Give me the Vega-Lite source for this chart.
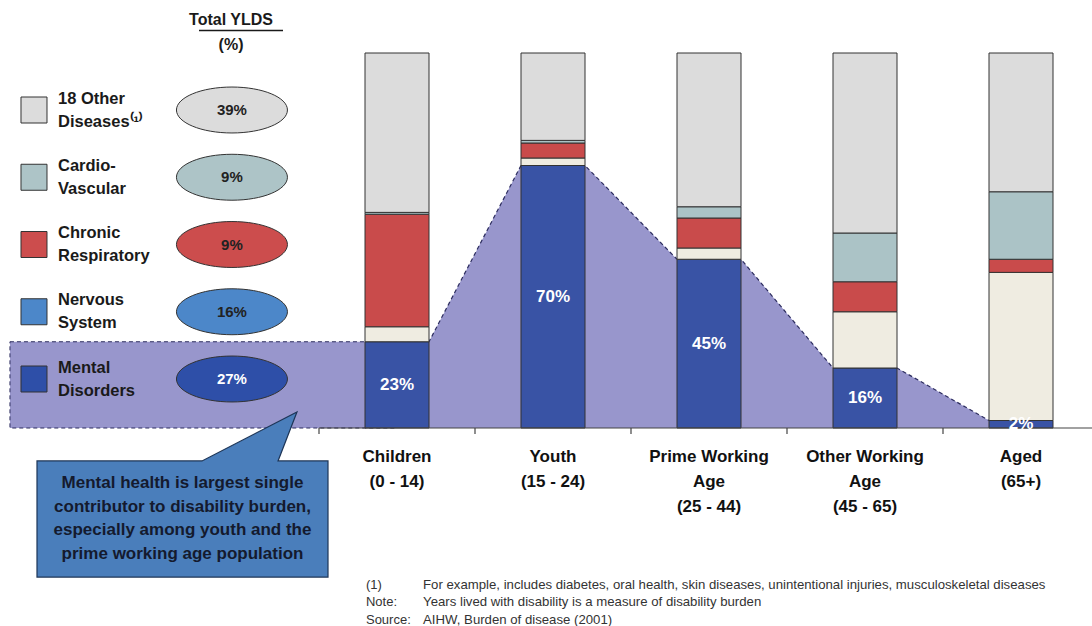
{
  "$schema": "https://vega.github.io/schema/vega-lite/v6.json",
  "width": 1085,
  "height": 375,
  "autosize": "none",
  "padding": {"left": 7, "top": 53, "right": 0, "bottom": 198},
  "background": "white",
  "config": {"view": {"stroke": null}, "font": "Liberation Sans"},
  "datasets": {
    "shares": [
      {"group": "Children", "cause": "Mental", "pct": 23},
      {"group": "Children", "cause": "Nervous", "pct": 4},
      {"group": "Children", "cause": "Respiratory", "pct": 30},
      {"group": "Children", "cause": "Cardio", "pct": 0.5},
      {"group": "Children", "cause": "Other", "pct": 42.5},
      {"group": "Youth", "cause": "Mental", "pct": 70},
      {"group": "Youth", "cause": "Nervous", "pct": 2},
      {"group": "Youth", "cause": "Respiratory", "pct": 4},
      {"group": "Youth", "cause": "Cardio", "pct": 0.7},
      {"group": "Youth", "cause": "Other", "pct": 23.3},
      {"group": "Prime Working Age", "cause": "Mental", "pct": 45},
      {"group": "Prime Working Age", "cause": "Nervous", "pct": 3},
      {"group": "Prime Working Age", "cause": "Respiratory", "pct": 8},
      {"group": "Prime Working Age", "cause": "Cardio", "pct": 3},
      {"group": "Prime Working Age", "cause": "Other", "pct": 41},
      {"group": "Other Working Age", "cause": "Mental", "pct": 16},
      {"group": "Other Working Age", "cause": "Nervous", "pct": 15},
      {"group": "Other Working Age", "cause": "Respiratory", "pct": 8},
      {"group": "Other Working Age", "cause": "Cardio", "pct": 13},
      {"group": "Other Working Age", "cause": "Other", "pct": 48},
      {"group": "Aged", "cause": "Mental", "pct": 2},
      {"group": "Aged", "cause": "Nervous", "pct": 39.5},
      {"group": "Aged", "cause": "Respiratory", "pct": 3.5},
      {"group": "Aged", "cause": "Cardio", "pct": 18},
      {"group": "Aged", "cause": "Other", "pct": 37}
    ],
    "groups": [
      {"group": "Children", "label": ["Children", "(0 - 14)"]},
      {"group": "Youth", "label": ["Youth", "(15 - 24)"]},
      {"group": "Prime Working Age", "label": ["Prime Working", "Age", "(25 - 44)"]},
      {"group": "Other Working Age", "label": ["Other Working", "Age", "(45 - 65)"]},
      {"group": "Aged", "label": ["Aged", "(65+)"]}
    ],
    "totals": [
      {"cause": "Other", "label": ["18 Other", "Diseases⁽¹⁾"], "total": 39},
      {"cause": "Cardio", "label": ["Cardio-", "Vascular"], "total": 9},
      {"cause": "Respiratory", "label": ["Chronic", "Respiratory"], "total": 9},
      {"cause": "Nervous", "label": ["Nervous", "System"], "total": 16},
      {"cause": "Mental", "label": ["Mental", "Disorders"], "total": 27}
    ]
  },
  "resolve": {"scale": {"y": "independent", "color": "independent", "fill": "independent"}},
  "layer": [
    {
      "layer": [
        {
          "data": {"name": "shares"},
          "transform": [{"filter": "datum.group == 'Children' && datum.cause == 'Mental'"}],
          "mark": {"type": "rect", "fill": "#9896cc", "stroke": "#2c2c5e", "strokeDash": [4, 3], "strokeWidth": 1},
          "encoding": {
            "x": {"datum": "_a", "type": "nominal", "bandPosition": 0.019, "axis": null,
              "scale": {"type": "band", "domain": ["_a", "_b", "Children", "Youth", "Prime Working Age", "Other Working Age", "Aged"], "paddingInner": 0, "paddingOuter": 0, "range": [0, 1092]}},
            "x2": {"datum": "Children", "bandPosition": 0.5},
            "y": {"field": "pct", "type": "quantitative", "axis": null, "scale": {"domain": [0, 100], "nice": false}},
            "y2": {"datum": 0}
          }
        },
        {
          "data": {"name": "shares"},
          "transform": [{"filter": "datum.cause == 'Mental'"}, {"calculate": "['L','R']", "as": "edge"}, {"flatten": ["edge"]}],
          "mark": {"type": "area", "color": "#9896cc", "opacity": 1},
          "encoding": {
            "x": {"field": "group", "type": "nominal", "axis": null,
              "scale": {"type": "band", "domain": ["_a", "_b", "Children", "Youth", "Prime Working Age", "Other Working Age", "Aged"], "paddingInner": 0, "paddingOuter": 0, "range": [0, 1092]}},
            "xOffset": {"field": "edge", "type": "nominal", "scale": {"type": "point", "domain": ["L", "R"], "padding": 0.71875}},
            "y": {"field": "pct", "type": "quantitative", "axis": null, "scale": {"domain": [0, 100], "nice": false}},
            "order": {"value": null}
          }
        },
        {
          "data": {"name": "shares"},
          "transform": [{"filter": "datum.cause == 'Mental'"}, {"calculate": "['L','R']", "as": "edge"}, {"flatten": ["edge"]}],
          "mark": {"type": "line", "color": "#2c2c5e", "strokeDash": [4, 3], "strokeWidth": 1.2},
          "encoding": {
            "x": {"field": "group", "type": "nominal", "axis": null,
              "scale": {"type": "band", "domain": ["_a", "_b", "Children", "Youth", "Prime Working Age", "Other Working Age", "Aged"], "paddingInner": 0, "paddingOuter": 0, "range": [0, 1092]}},
            "xOffset": {"field": "edge", "type": "nominal", "scale": {"type": "point", "domain": ["L", "R"], "padding": 0.71875}},
            "y": {"field": "pct", "type": "quantitative", "axis": null, "scale": {"domain": [0, 100], "nice": false}},
            "order": {"value": null}
          }
        },
        {
          "data": {"name": "shares"},
          "transform": [{"calculate": "indexof(['Mental','Nervous','Respiratory','Cardio','Other'], datum.cause)", "as": "rank"}],
          "mark": {"type": "bar", "width": 64, "stroke": "#333333", "strokeWidth": 1},
          "encoding": {
            "x": {"field": "group", "type": "nominal", "axis": null,
              "scale": {"type": "band", "domain": ["_a", "_b", "Children", "Youth", "Prime Working Age", "Other Working Age", "Aged"], "paddingInner": 0, "paddingOuter": 0, "range": [0, 1092]}},
            "y": {"field": "pct", "type": "quantitative", "stack": "zero", "axis": null, "scale": {"domain": [0, 100], "nice": false}},
            "order": {"field": "rank", "type": "quantitative"},
            "color": {"field": "cause", "type": "nominal", "legend": null,
              "scale": {"domain": ["Mental", "Nervous", "Respiratory", "Cardio", "Other"], "range": ["#3953a5", "#efece1", "#c94b4b", "#abc3c6", "#dcdcdc"]}}
          }
        },
        {
          "data": {"values": [{}]},
          "mark": {"type": "rule", "color": "#444444", "strokeWidth": 1.2},
          "encoding": {
            "x": {"datum": "Children", "type": "nominal", "bandPosition": 0, "axis": null,
              "scale": {"type": "band", "domain": ["_a", "_b", "Children", "Youth", "Prime Working Age", "Other Working Age", "Aged"], "paddingInner": 0, "paddingOuter": 0, "range": [0, 1092]}},
            "x2": {"datum": "Aged", "bandPosition": 1},
            "y": {"datum": 0, "type": "quantitative", "axis": null, "scale": {"domain": [0, 100], "nice": false}}
          }
        },
        {
          "data": {"name": "groups"},
          "mark": {"type": "rule", "color": "#444444", "strokeWidth": 1.2},
          "encoding": {
            "x": {"field": "group", "type": "nominal", "bandPosition": 0, "axis": null,
              "scale": {"type": "band", "domain": ["_a", "_b", "Children", "Youth", "Prime Working Age", "Other Working Age", "Aged"], "paddingInner": 0, "paddingOuter": 0, "range": [0, 1092]}},
            "y": {"datum": 0, "type": "quantitative", "axis": null, "scale": {"domain": [0, 100], "nice": false}},
            "y2": {"datum": -1.6}
          }
        },
        {
          "data": {"name": "groups"},
          "mark": {"type": "text", "align": "center", "baseline": "middle", "fontSize": 17, "fontWeight": "bold", "lineHeight": 25, "color": "#111111"},
          "encoding": {
            "x": {"field": "group", "type": "nominal", "axis": null,
              "scale": {"type": "band", "domain": ["_a", "_b", "Children", "Youth", "Prime Working Age", "Other Working Age", "Aged"], "paddingInner": 0, "paddingOuter": 0, "range": [0, 1092]}},
            "y": {"datum": -7.73, "type": "quantitative", "axis": null, "scale": {"domain": [0, 100], "nice": false}},
            "text": {"field": "label", "type": "nominal"}
          }
        },
        {
          "data": {"values": [{}]},
          "mark": {"type": "point", "shape": "M -0.97 -0.387 L 0.13 -0.387 L 0.763 -0.713 L 0.637 -0.387 L 0.97 -0.387 L 0.97 0.387 L -0.97 0.387 Z", "size": 90000, "filled": true, "fill": "#4a7ebb", "stroke": "#1d3557", "strokeWidth": 1.2, "opacity": 1},
          "encoding": {
            "x": {"datum": "_b", "type": "nominal", "bandPosition": 0.125, "axis": null,
              "scale": {"type": "band", "domain": ["_a", "_b", "Children", "Youth", "Prime Working Age", "Other Working Age", "Aged"], "paddingInner": 0, "paddingOuter": 0, "range": [0, 1092]}},
            "y": {"datum": -24.27, "type": "quantitative", "axis": null, "scale": {"domain": [0, 100], "nice": false}}
          }
        },
        {
          "data": {"values": [{}]},
          "mark": {"type": "text", "text": ["Mental health is largest single", "contributor to disability burden,", "especially among youth and the", "prime working age population"], "align": "center", "baseline": "middle", "fontSize": 17, "fontWeight": "bold", "lineHeight": 23.5, "color": "#141a2e"},
          "encoding": {
            "x": {"datum": "_b", "type": "nominal", "bandPosition": 0.125, "axis": null,
              "scale": {"type": "band", "domain": ["_a", "_b", "Children", "Youth", "Prime Working Age", "Other Working Age", "Aged"], "paddingInner": 0, "paddingOuter": 0, "range": [0, 1092]}},
            "y": {"datum": -14.67, "type": "quantitative", "axis": null, "scale": {"domain": [0, 100], "nice": false}}
          }
        },
        {
          "data": {"values": [{}]},
          "mark": {"type": "text", "text": ["(1)", "Note:", "Source:"], "align": "left", "baseline": "middle", "fontSize": 13, "lineHeight": 17.3, "color": "#333333"},
          "encoding": {
            "x": {"datum": "Children", "type": "nominal", "bandPosition": 0.301, "axis": null,
              "scale": {"type": "band", "domain": ["_a", "_b", "Children", "Youth", "Prime Working Age", "Other Working Age", "Aged"], "paddingInner": 0, "paddingOuter": 0, "range": [0, 1092]}},
            "y": {"datum": -41.87, "type": "quantitative", "axis": null, "scale": {"domain": [0, 100], "nice": false}}
          }
        },
        {
          "data": {"values": [{}]},
          "mark": {"type": "text", "text": ["For example, includes diabetes, oral health, skin diseases, unintentional injuries, musculoskeletal diseases", " Years lived with disability is a measure of disability burden", "AIHW, Burden of disease (2001)"], "align": "left", "baseline": "middle", "fontSize": 13.2, "lineHeight": 17.3, "color": "#333333"},
          "encoding": {
            "x": {"datum": "Children", "type": "nominal", "bandPosition": 0.667, "axis": null,
              "scale": {"type": "band", "domain": ["_a", "_b", "Children", "Youth", "Prime Working Age", "Other Working Age", "Aged"], "paddingInner": 0, "paddingOuter": 0, "range": [0, 1092]}},
            "y": {"datum": -41.87, "type": "quantitative", "axis": null, "scale": {"domain": [0, 100], "nice": false}}
          }
        },
        {
          "data": {"values": [{}]},
          "mark": {"type": "text", "text": ["Total YLDS", "(%)"], "align": "center", "baseline": "middle", "fontSize": 16, "fontWeight": "bold", "lineHeight": 25, "color": "#1a1a1a"},
          "encoding": {
            "x": {"datum": "_b", "type": "nominal", "bandPosition": 0.436, "axis": null,
              "scale": {"type": "band", "domain": ["_a", "_b", "Children", "Youth", "Prime Working Age", "Other Working Age", "Aged"], "paddingInner": 0, "paddingOuter": 0, "range": [0, 1092]}},
            "y": {"datum": 108.8, "type": "quantitative", "axis": null, "scale": {"domain": [0, 100], "nice": false}}
          }
        },
        {
          "data": {"values": [{}]},
          "mark": {"type": "tick", "orient": "horizontal", "size": 84, "thickness": 1.3, "color": "#1a1a1a", "opacity": 1},
          "encoding": {
            "x": {"datum": "_b", "type": "nominal", "bandPosition": 0.429, "axis": null,
              "scale": {"type": "band", "domain": ["_a", "_b", "Children", "Youth", "Prime Working Age", "Other Working Age", "Aged"], "paddingInner": 0, "paddingOuter": 0, "range": [0, 1092]}},
            "y": {"datum": 106.0, "type": "quantitative", "axis": null, "scale": {"domain": [0, 100], "nice": false}}
          }
        }
      ]
    },
    {
      "data": {"name": "shares"},
      "transform": [{"filter": "datum.cause == 'Mental'"}, {"calculate": "datum.pct + '%'", "as": "lbl"}],
      "mark": {"type": "text", "color": "white", "fontWeight": "bold", "fontSize": 17, "baseline": "middle", "align": "center"},
      "encoding": {
        "x": {"field": "group", "type": "nominal", "axis": null,
          "scale": {"type": "band", "domain": ["_a", "_b", "Children", "Youth", "Prime Working Age", "Other Working Age", "Aged"], "paddingInner": 0, "paddingOuter": 0, "range": [0, 1092]}},
        "y": {"field": "pct", "type": "quantitative", "axis": null, "scale": {"domain": [0, 200], "nice": false}},
        "text": {"field": "lbl", "type": "nominal"}
      }
    },
    {
      "data": {"name": "totals"},
      "transform": [{"calculate": "datum.total + '%'", "as": "tlbl"}],
      "encoding": {
        "y": {"field": "cause", "type": "nominal", "axis": null,
          "scale": {"type": "point", "domain": ["Other", "Cardio", "Respiratory", "Nervous", "Mental"], "range": [57, 326], "padding": 0}}
      },
      "layer": [
        {
          "mark": {"type": "point", "shape": "square", "size": 676, "filled": true, "stroke": "#333333", "strokeWidth": 1, "opacity": 1},
          "encoding": {
            "x": {"datum": "_a", "type": "nominal", "bandPosition": 0.173, "axis": null,
              "scale": {"type": "band", "domain": ["_a", "_b", "Children", "Youth", "Prime Working Age", "Other Working Age", "Aged"], "paddingInner": 0, "paddingOuter": 0, "range": [0, 1092]}},
            "fill": {"field": "cause", "type": "nominal", "legend": null,
              "scale": {"domain": ["Other", "Cardio", "Respiratory", "Nervous", "Mental"], "range": ["#dcdcdc", "#adc4c7", "#cc4d4d", "#4c87c9", "#2e4fa8"]}}
          }
        },
        {
          "mark": {"type": "text", "align": "left", "baseline": "middle", "fontSize": 16.5, "fontWeight": "bold", "lineHeight": 23, "dy": -11.5, "color": "#1a1a1a"},
          "encoding": {
            "x": {"datum": "_a", "type": "nominal", "bandPosition": 0.327, "axis": null,
              "scale": {"type": "band", "domain": ["_a", "_b", "Children", "Youth", "Prime Working Age", "Other Working Age", "Aged"], "paddingInner": 0, "paddingOuter": 0, "range": [0, 1092]}},
            "text": {"field": "label", "type": "nominal"}
          }
        },
        {
          "mark": {"type": "point", "shape": "M -1 0 A 1 0.414 0 1 1 1 0 A 1 0.414 0 1 1 -1 0 Z", "size": 12321, "filled": true, "stroke": "#333333", "strokeWidth": 1, "opacity": 1},
          "encoding": {
            "x": {"datum": "_b", "type": "nominal", "bandPosition": 0.442, "axis": null,
              "scale": {"type": "band", "domain": ["_a", "_b", "Children", "Youth", "Prime Working Age", "Other Working Age", "Aged"], "paddingInner": 0, "paddingOuter": 0, "range": [0, 1092]}},
            "fill": {"field": "cause", "type": "nominal", "legend": null,
              "scale": {"domain": ["Other", "Cardio", "Respiratory", "Nervous", "Mental"], "range": ["#dcdcdc", "#adc4c7", "#cc4d4d", "#4c87c9", "#2e4fa8"]}}
          }
        },
        {
          "mark": {"type": "text", "align": "center", "baseline": "middle", "fontSize": 15, "fontWeight": "bold"},
          "encoding": {
            "x": {"datum": "_b", "type": "nominal", "bandPosition": 0.442, "axis": null,
              "scale": {"type": "band", "domain": ["_a", "_b", "Children", "Youth", "Prime Working Age", "Other Working Age", "Aged"], "paddingInner": 0, "paddingOuter": 0, "range": [0, 1092]}},
            "text": {"field": "tlbl", "type": "nominal"},
            "color": {"condition": {"test": "datum.cause == 'Mental'", "value": "white"}, "value": "#222222"}
          }
        }
      ]
    }
  ]
}
